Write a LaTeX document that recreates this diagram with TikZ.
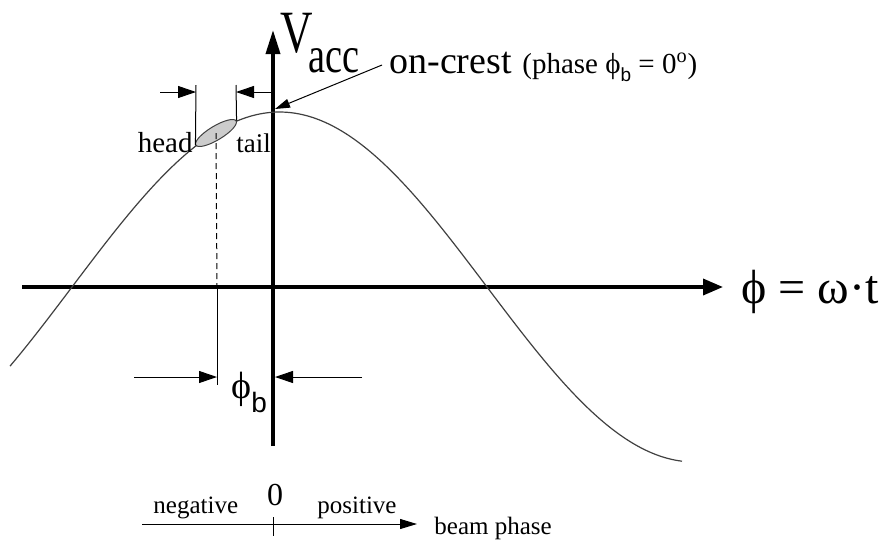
\documentclass[tikz,border=0pt]{standalone}
\usepackage{fontspec}
\setmainfont{Liberation Serif}
\newfontfamily\narrowfont[FakeStretch=0.75]{Liberation Serif}
\newfontfamily\subfont{Liberation Sans}
\usetikzlibrary{arrows.meta,positioning,shapes.geometric}

\tikzset{
  axis/.style={line width=1.8pt},
  thinline/.style={line width=0.5pt},
  curve/.style={line width=0.6pt,black!75},
  dimtip/.style={-{Triangle[length=9pt,width=6pt]}},
  lab/.style={inner sep=0pt,anchor=base west},
}

\begin{document}
\begin{tikzpicture}[x=0.5pt,y=-0.5pt]
  \useasboundingbox (0,0) rectangle (884,542);
  % axes
  \coordinate (xl) at (22,287);
  \coordinate (xr) at (723,287);
  \coordinate (yb) at (273,446);
  \coordinate (yt) at (273,30);
  \draw[axis,-{Triangle[length=10pt,width=8pt]}] (xl) -- (xr);
  \draw[axis,-{Triangle[length=12pt,width=7pt]}] (yb) -- (yt);
  \node[lab] (omt) at (741,303) {\fontsize{24}{24}\selectfont ϕ = ω·t};
  \node[lab] (vv) at (280,52) {\narrowfont\fontsize{30}{30}\selectfont V};
  \node[lab] (acc) at (308,72) {\narrowfont\fontsize{25.5}{25.5}\selectfont acc};
  % voltage curve
  \draw[curve] plot[domain=10:682,samples=150,smooth] (\x,{287-175*cos((\x-279.5)/415*180)});
  % bunch
  \node[ellipse,draw=black!75,thinline,fill=gray!40,minimum width=23.5pt,minimum height=7pt,
        inner sep=0pt,rotate=31] (bunch) at (216,133) {};
  \node[lab,anchor=base east] (head) at (193,152) {\fontsize{14.5}{14.5}\selectfont head};
  \node[lab] (tail) at (236,152) {\fontsize{13.5}{13.5}\selectfont tail};
  \coordinate (headtop) at (196,85);
  \coordinate (tailtop) at (236,85);
  \coordinate (heada) at (160,92);
  \coordinate (headb) at (196,92);
  \coordinate (taila) at (273,92);
  \coordinate (tailb) at (236,92);
  \draw[thinline] (bunch.west) -- (headtop);
  \draw[thinline] (bunch.east) -- (tailtop);
  \draw[thinline,dimtip] (heada) -- (headb);
  \draw[thinline,dimtip] (taila) -- (tailb);
  % on-crest
  \coordinate (crest) at (275,109);
  \coordinate (crestfrom) at (382,65);
  \draw[thinline,-{Triangle[length=7.5pt,width=4.5pt]}] (crestfrom) -- (crest);
  \node[lab] (oncrest) at (389,73) {\fontsize{19}{19}\selectfont on-crest};
  \node[lab] (phase) at (522,73) {\fontsize{14.5}{14.5}\selectfont (phase ϕ\raisebox{-0.3em}{\subfont\fontsize{9.5}{9.5}\selectfont b} = 0\textsuperscript{o})};
  % beam phase
  \coordinate (pa) at (217,287);
  \coordinate (pb) at (217,385);
  \draw[thinline,dash pattern=on 3pt off 2pt] (bunch.center) -- (pa);
  \draw[thinline] (pa) -- (pb);
  \coordinate (phia) at (134,377);
  \coordinate (phib) at (217,377);
  \coordinate (phic) at (362,377);
  \coordinate (phid) at (275,377);
  \draw[thinline,dimtip] (phia) -- (phib);
  \draw[thinline,dimtip] (phic) -- (phid);
  \node[lab] (phiblab) at (231,398) {\fontsize{19}{19}\selectfont ϕ\raisebox{-0.37em}{\subfont\fontsize{14}{14}\selectfont b}};
  % sign convention
  \coordinate (sa) at (142,524);
  \coordinate (sb) at (417,524);
  \coordinate (ta) at (273,517);
  \coordinate (tb) at (273,536);
  \draw[thinline,-{Triangle[length=8.5pt,width=5pt]}] (sa) -- (sb);
  \draw[thinline] (ta) -- (tb);
  \node[lab,anchor=base] (zero) at (275,505) {\fontsize{16}{16}\selectfont 0};
  \node[lab] (neg) at (153,513) {\fontsize{12.5}{12.5}\selectfont negative};
  \node[lab] (pos) at (317,513) {\fontsize{12.5}{12.5}\selectfont positive};
  \node[lab] (bp) at (434,534) {\fontsize{12.5}{12.5}\selectfont beam phase};
\end{tikzpicture}
\end{document}
